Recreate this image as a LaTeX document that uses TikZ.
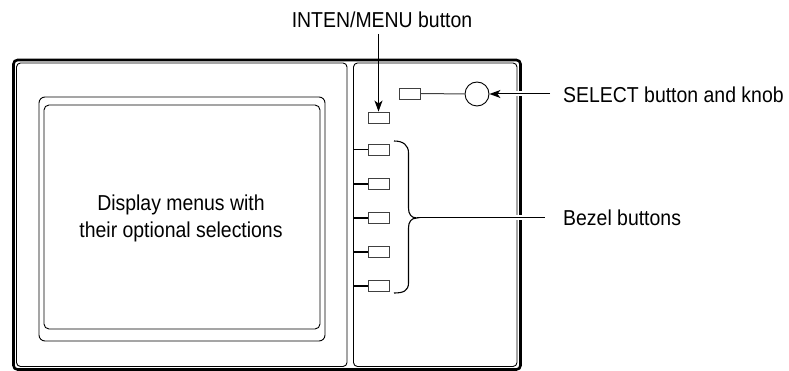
\documentclass[tikz,border=0pt]{standalone}
\usepackage{fontspec}
\setmainfont[FakeStretch=0.9]{Liberation Sans}
\usetikzlibrary{arrows.meta}
\begin{document}
\begin{tikzpicture}[x=1pt,y=-1pt,
  btn/.style={draw=black!75, line width=0.9pt, minimum width=21pt, minimum height=11pt, inner sep=0pt},
  lbl/.style={font=\fontsize{21.6}{26}\selectfont, inner sep=0pt},
  conn/.style={line width=1pt},
  arr/.style={line width=1pt, -{Stealth[length=11pt,width=8pt,inset=3pt]}},
  halo/.style={white, line width=5pt},
]
\useasboundingbox (0,0) rectangle (789,371);
% bezel frame
\draw[line width=2.6pt, rounded corners=4pt] (13.5,60) rectangle (520.5,369.5);
\draw[line width=0.9pt, rounded corners=4pt] (16.5,63) rectangle (347,366.5);
\draw[line width=0.9pt, rounded corners=4pt] (353.5,63) rectangle (517,366.5);
% screen
\draw[line width=0.9pt, rounded corners=6pt] (39,97) rectangle (325,341);
\draw[line width=0.9pt, rounded corners=5pt] (44,105) rectangle (320,329);
\node[lbl, anchor=base] (disp1) at (181,211) {Display menus with};
\node[lbl, anchor=base] (disp2) at (181,237.5) {their optional selections};
% SELECT button and knob
\node[btn] (sel) at (410,93.5) {};
\node[draw, circle, minimum size=24pt, inner sep=0pt, line width=0.9pt] (knob) at (477,94) {};
\draw[conn, black!75] (sel) -- (knob);
% INTEN/MENU button
\node[btn] (inten) at (378.5,117.5) {};
% bezel buttons
\foreach \i/\y in {1/149.5,2/184,3/218,4/252,5/286}{
  \node[btn] (b\i) at (378.5,\y) {};
  \coordinate (e\i) at (353.5,\y);
  \draw[line width=1.3pt] (e\i) -- (b\i);
}
% labels
\node[lbl, anchor=base] (intenlbl) at (382,28) {INTEN/MENU button};
\coordinate (a0) at (378.5,34);
\draw[arr] (a0) -- (inten);
\node[lbl, anchor=base west] (sellbl) at (563,103) {SELECT button and knob};
\coordinate (s0) at (550,94);
\coordinate (h1a) at (511,94);
\coordinate (h1b) at (527,94);
\draw[halo] (h1a) -- (h1b);
\draw[arr] (s0) -- (knob);
\node[lbl, anchor=base west] (bzl) at (563,225.5) {Bezel buttons};
\coordinate (btip) at (417,218);
\coordinate (bend) at (545,218);
\coordinate (h2a) at (511,218);
\coordinate (h2b) at (527,218);
\draw[halo] (h2a) -- (h2b);
\draw[conn] (btip) -- (bend);
% brace
\draw[line width=1.1pt] (394,141) .. controls (403,141) and (408.5,145) .. (408.5,153) -- (408.5,208) .. controls (408.5,214) and (411,218) .. (btip) .. controls (411,218) and (408.5,222) .. (408.5,228) -- (408.5,283) .. controls (408.5,291) and (403,293) .. (394,293);
\end{tikzpicture}
\end{document}
